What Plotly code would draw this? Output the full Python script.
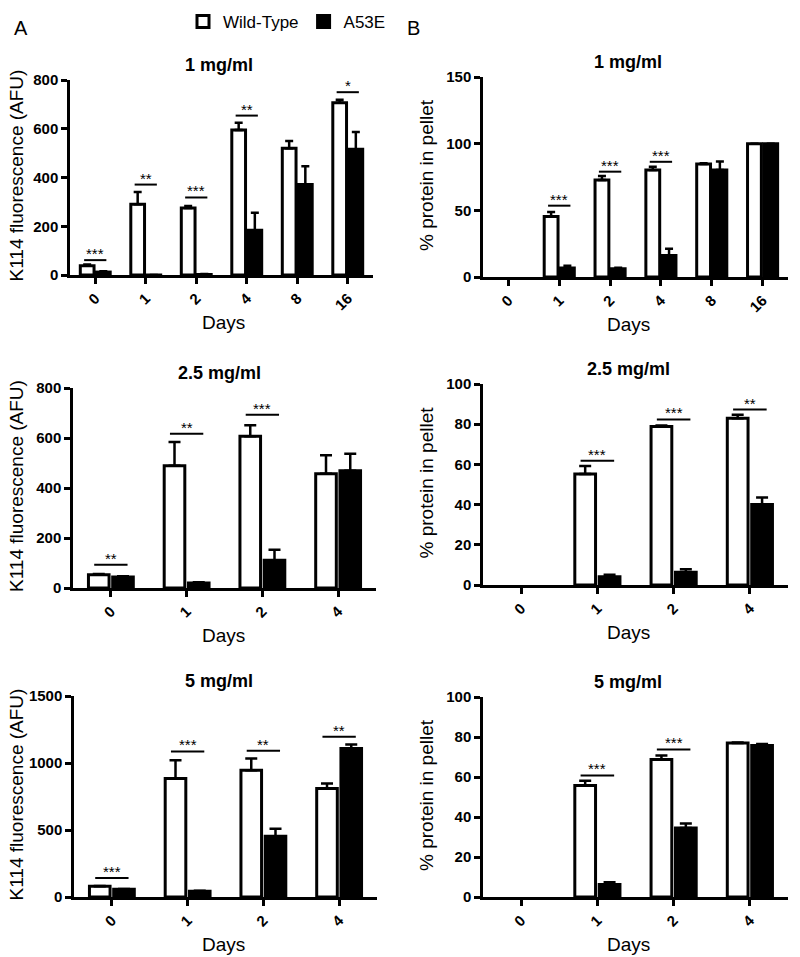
import plotly.graph_objects as go

FW, FH = 800, 957

def px(x):
    return x / FW

def py(y):
    return 1 - y / FH

days_long = ["0", "1", "2", "4", "8", "16"]
days_short = ["0", "1", "2", "4"]

# Panel A (K114 fluorescence)
a1_wt = [38, 290, 275, 595, 520, 707]
a1_wt_err = [5, 50, 8, 30, 30, 12]
a1_mut = [12, -3, 2, 184, 371, 516]
a1_mut_err = [3, 3, 2, 71, 75, 71]
a1_sig_days = ["0", "1", "2", "4", "16"]
a1_sig_y = [61, 371, 318, 654, 750]
a1_sig_txt = ["***", "**", "***", "**", "*"]

a2_wt = [53, 489, 607, 457]
a2_wt_err = [3, 95, 44, 74]
a2_mut = [44, 20, 111, 469]
a2_mut_err = [3, 3, 42, 68]
a2_sig_days = ["0", "1", "2"]
a2_sig_y = [93, 617, 693]
a2_sig_txt = ["**", "**", "***"]

a3_wt = [80, 884, 946, 809]
a3_wt_err = [3, 137, 88, 38]
a3_mut = [57, 42, 453, 1108]
a3_mut_err = [3, 5, 57, 30]
a3_sig_days = ["0", "1", "2", "4"]
a3_sig_y = [142, 1086, 1091, 1196]
a3_sig_txt = ["***", "***", "**", "**"]

# Panel B (% protein in pellet)
b1_wt = [None, 45.3, 72.7, 80.2, 84.7, 100]
b1_wt_err = [0, 3.5, 3, 2.5, 0.7, 0]
b1_mut = [None, 6.7, 6.2, 16.2, 80.2, 100]
b1_mut_err = [0, 1.8, 0.8, 5, 6.5, 0]
b1_sig_days = ["1", "2", "4"]
b1_sig_y = [53.5, 79, 86.4]
b1_sig_txt = ["***", "***", "***"]

b2_wt = [None, 55.2, 78.8, 82.9]
b2_wt_err = [0, 4, 0.6, 1.8]
b2_mut = [None, 4.1, 6.3, 40.1]
b2_mut_err = [0, 1, 1.5, 3.4]
b2_sig_days = ["1", "2", "4"]
b2_sig_y = [61.8, 82.4, 87.3]
b2_sig_txt = ["***", "***", "**"]

b3_wt = [None, 55.8, 68.8, 77]
b3_wt_err = [0, 2.3, 2, 0.3]
b3_mut = [None, 6.2, 34.5, 75.8]
b3_mut_err = [0, 1.2, 2.2, 0.7]
b3_sig_days = ["1", "2"]
b3_sig_y = [60.8, 73.8]
b3_sig_txt = ["***", "***"]

titles = ["1 mg/ml", "1 mg/ml", "2.5 mg/ml", "2.5 mg/ml", "5 mg/ml", "5 mg/ml"]

FONT = "Arial, Liberation Sans, sans-serif"

# panel pixel boxes: (x0, x1, ytop, ybottom)
panels = [
    dict(box=(70, 373, 80, 275), cats=days_long, wt=a1_wt, wte=a1_wt_err, mu=a1_mut, mue=a1_mut_err,
         rng=[0, 800], dt=200, sd=a1_sig_days, sy=a1_sig_y, st=a1_sig_txt, cap=4),
    dict(box=(483, 788, 77, 277), cats=days_long, wt=b1_wt, wte=b1_wt_err, mu=b1_mut, mue=b1_mut_err,
         rng=[0, 150], dt=50, sd=b1_sig_days, sy=b1_sig_y, st=b1_sig_txt, cap=4),
    dict(box=(73, 376, 388, 588), cats=days_short, wt=a2_wt, wte=a2_wt_err, mu=a2_mut, mue=a2_mut_err,
         rng=[0, 800], dt=200, sd=a2_sig_days, sy=a2_sig_y, st=a2_sig_txt, cap=6),
    dict(box=(483, 788, 384, 585), cats=days_short, wt=b2_wt, wte=b2_wt_err, mu=b2_mut, mue=b2_mut_err,
         rng=[0, 100], dt=20, sd=b2_sig_days, sy=b2_sig_y, st=b2_sig_txt, cap=6),
    dict(box=(74, 377, 696, 897), cats=days_short, wt=a3_wt, wte=a3_wt_err, mu=a3_mut, mue=a3_mut_err,
         rng=[0, 1500], dt=500, sd=a3_sig_days, sy=a3_sig_y, st=a3_sig_txt, cap=6),
    dict(box=(483, 788, 697, 897), cats=days_short, wt=b3_wt, wte=b3_wt_err, mu=b3_mut, mue=b3_mut_err,
         rng=[0, 100], dt=20, sd=b3_sig_days, sy=b3_sig_y, st=b3_sig_txt, cap=6),
]

fig = go.Figure()
layout = {}
shapes = []
annotations = []

for i, p in enumerate(panels):
    n = i + 1
    xa = "x" if n == 1 else f"x{n}"
    ya = "y" if n == 1 else f"y{n}"
    x0, x1, yt, yb = p["box"]
    fig.add_trace(go.Bar(
        x=p["cats"], y=p["wt"], name="Wild-Type", xaxis=xa, yaxis=ya,
        offsetgroup="wt", legendgroup="wt", showlegend=(n == 1),
        marker=dict(color="white", line=dict(color="black", width=3)),
        error_y=dict(type="data", symmetric=False, array=p["wte"], arrayminus=[0] * len(p["wte"]),
                     color="black", thickness=2.5, width=p["cap"]),
    ))
    fig.add_trace(go.Bar(
        x=p["cats"], y=p["mu"], name="A53E", xaxis=xa, yaxis=ya,
        offsetgroup="mu", legendgroup="mu", showlegend=(n == 1),
        marker=dict(color="black", line=dict(color="black", width=3)),
        error_y=dict(type="data", symmetric=False, array=p["mue"], arrayminus=[0] * len(p["mue"]),
                     color="black", thickness=2.5, width=p["cap"]),
    ))
    xk = "xaxis" if n == 1 else f"xaxis{n}"
    yk = "yaxis" if n == 1 else f"yaxis{n}"
    layout[xk] = dict(
        domain=[px(x0), px(x1)], anchor=ya, type="category",
        categoryorder="array", categoryarray=p["cats"],
        range=[-0.5, len(p["cats"]) - 0.5],
        showline=True, linecolor="black", linewidth=2.5, ticks="outside", ticklen=6,
        tickwidth=2.5, tickcolor="black", tickangle=-45, showgrid=False, zeroline=False,
        tickfont=dict(family=FONT, size=15, color="black", weight="bold"),
    )
    layout[yk] = dict(
        domain=[py(yb), py(yt)], anchor=xa, range=p["rng"], dtick=p["dt"],
        showline=True, linecolor="black", linewidth=2.5, ticks="outside", ticklen=6,
        tickwidth=2.5, tickcolor="black", showgrid=False, zeroline=False,
        tickfont=dict(family=FONT, size=15, color="black", weight="bold"),
    )
    # significance bars
    for d, yv, txt in zip(p["sd"], p["sy"], p["st"]):
        idx = p["cats"].index(d)
        shapes.append(dict(type="line", xref=xa, yref=ya, x0=idx - 0.22, x1=idx + 0.22,
                           y0=yv, y1=yv, line=dict(color="black", width=2)))
        annotations.append(dict(xref=xa, yref=ya, x=idx, y=yv, text=txt, showarrow=False,
                                yanchor="bottom", yshift=-4,
                                font=dict(family=FONT, size=15, color="black")))
    # panel title
    xc = 219 if x0 < 400 else 628
    annotations.append(dict(xref="paper", yref="paper", x=px(xc), y=py(yt - 15),
                            text=titles[i], showarrow=False, xanchor="center", yanchor="middle",
                            font=dict(family=FONT, size=18, color="black", weight="bold")))
    # x axis title
    xd = 223 if x0 < 400 else 628
    annotations.append(dict(xref="paper", yref="paper", x=px(xd), y=py(yb + 47),
                            text="Days", showarrow=False, xanchor="center", yanchor="middle",
                            font=dict(family=FONT, size=19, color="black")))
    # y axis title
    yx = 16 if x0 < 400 else 426
    ytxt = "K114 fluorescence (AFU)" if x0 < 400 else "% protein in pellet"
    annotations.append(dict(xref="paper", yref="paper", x=px(yx), y=py((yt + yb) / 2 - 2),
                            text=ytxt, showarrow=False, textangle=-90, xanchor="center",
                            yanchor="middle", font=dict(family=FONT, size=19, color="black")))

annotations.append(dict(xref="paper", yref="paper", x=px(12), y=py(15), text="A",
                        showarrow=False, font=dict(family=FONT, size=20, color="black")))
annotations.append(dict(xref="paper", yref="paper", x=px(413), y=py(15), text="B",
                        showarrow=False, font=dict(family=FONT, size=20, color="black")))

fig.update_layout(
    width=FW, height=FH, margin=dict(l=0, r=0, t=0, b=0, autoexpand=False),
    paper_bgcolor="white", plot_bgcolor="white",
    barmode="group", bargap=0.36, bargroupgap=0.15,
    showlegend=True,
    legend=dict(orientation="h", x=px(183), y=py(4), xanchor="left", yanchor="top",
                font=dict(family=FONT, size=17, color="black"), itemwidth=30,
                bgcolor="rgba(0,0,0,0)", traceorder="normal"),
    shapes=shapes, annotations=annotations,
    **layout,
)

fig.write_html("out.html", config={"displayModeBar": False},
               post_script="document.body.style.margin='0px';")
